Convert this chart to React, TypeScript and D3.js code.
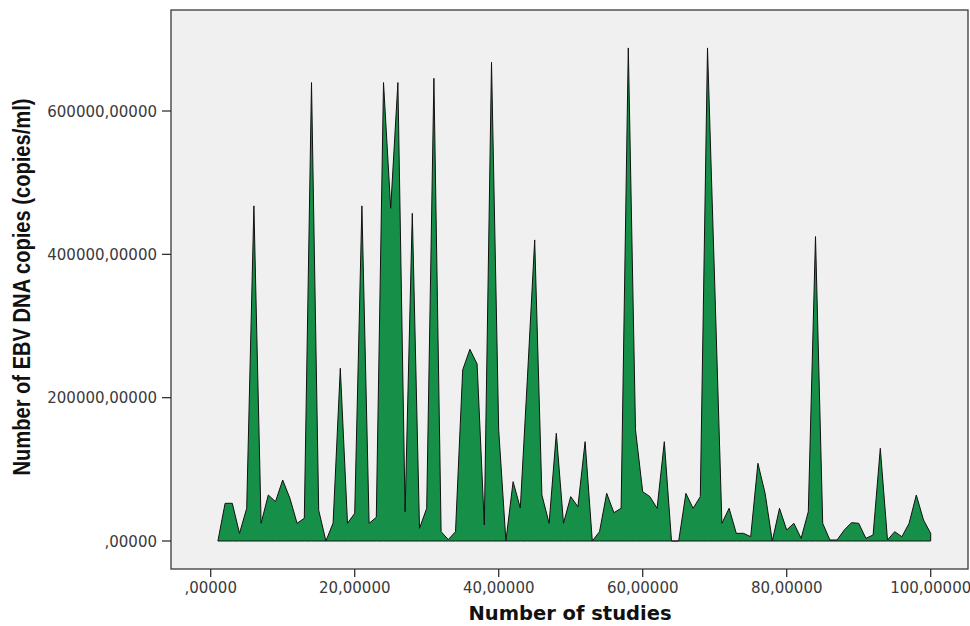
import React from "react";
import * as d3 from "d3";

// EBV DNA copies (copies/ml) per study, studies 1..100
const ebvCopies: number[] = [
  0, 52600, 52600, 10700, 45600, 467600, 24700, 64200, 54900, 85100,
  59600, 24700, 31700, 639700, 43000, 0, 25000, 241000, 24700, 38600,
  467600, 24700, 33000, 639700, 464300, 639700, 40900, 457300, 17700, 45600,
  645700, 13000, 2000, 13000, 238700, 267500, 247000, 22300, 668000, 155000,
  0, 82800, 46000, 230000, 420100, 64200, 24700, 150300, 24700, 61900,
  47900, 138600, 0, 13000, 66500, 39500, 45600, 688000, 155000, 68800,
  61900, 45600, 138600, 0, 0, 66500, 45600, 61900, 688000, 360000,
  24700, 45600, 10700, 10700, 6000, 108400, 66500, 0, 45600, 15400,
  24700, 3700, 40900, 424800, 24700, 1400, 1400, 15400, 25600, 24700,
  3700, 8400, 129300, 1400, 13000, 6000, 24700, 64200, 29300, 10700,
];
const studyNumbers: number[] = ebvCopies.map((_, i) => i + 1);

const xTickValues = [0, 20, 40, 60, 80, 100];
const xTickLabels = [",00000", "20,00000", "40,00000", "60,00000", "80,00000", "100,00000"];
const yTickValues = [0, 200000, 400000, 600000];
const yTickLabels = [",00000", "200000,00000", "400000,00000", "600000,00000"];

const xTitle = "Number of studies";
const yTitle = "Number of EBV DNA copies (copies/ml)";

export default function App() {
  const W = 970, H = 626;
  const frame = { left: 171, top: 10, right: 968, bottom: 569 };
  const x = d3.scaleLinear().domain([0, 100]).range([210.7, 930.7]);
  const y = d3.scaleLinear().domain([0, 600000]).range([541, 111]);

  const data = studyNumbers.map((s, i) => ({ s, v: ebvCopies[i] }));
  const area = d3
    .area<{ s: number; v: number }>()
    .x((d) => x(d.s))
    .y0(y(0))
    .y1((d) => y(d.v))
    .curve(d3.curveLinear);

  const tickFont = "'DejaVu Sans', Verdana, sans-serif";
  return (
    <svg
      width={W}
      height={H}
      style={{ position: "absolute", left: 0, top: 0, background: "#fff" }}
    >
      <rect
        x={frame.left}
        y={frame.top}
        width={frame.right - frame.left}
        height={frame.bottom - frame.top}
        fill="#f0f0f0"
        stroke="#3a3a3a"
        strokeWidth={1.3}
      />
      <path
        d={area(data) || ""}
        fill="#168f48"
        stroke="#111"
        strokeWidth={1}
        strokeLinejoin="miter"
      />
      {xTickValues.map((t, i) => (
        <g key={"x" + t}>
          <line x1={x(t)} x2={x(t)} y1={frame.bottom} y2={frame.bottom + 8} stroke="#333" strokeWidth={1.3} />
          <text
            x={x(t)}
            y={593}
            textAnchor="middle"
            fontFamily={tickFont}
            fontSize={15}
            fill="#3a3a3a"
          >
            {xTickLabels[i]}
          </text>
        </g>
      ))}
      {yTickValues.map((t, i) => (
        <g key={"y" + t}>
          <line x1={frame.left - 9} x2={frame.left} y1={y(t)} y2={y(t)} stroke="#333" strokeWidth={1.3} />
          <text
            x={frame.left - 14}
            y={y(t) + 5.5}
            textAnchor="end"
            fontFamily={tickFont}
            fontSize={15}
            fill="#3a3a3a"
          >
            {yTickLabels[i]}
          </text>
        </g>
      ))}
      <text
        x={570}
        y={620}
        textAnchor="middle"
        fontFamily={tickFont}
        fontWeight="bold"
        fontSize={19.5}
        fill="#111"
      >
        {xTitle}
      </text>
      <text
        transform={`translate(30, 287) rotate(-90)`}
        textAnchor="middle"
        fontFamily="'Liberation Sans', Arial, sans-serif"
        fontWeight="bold"
        fontSize={23}
        textLength={377}
        lengthAdjust="spacingAndGlyphs"
        fill="#111"
      >
        {yTitle}
      </text>
    </svg>
  );
}
